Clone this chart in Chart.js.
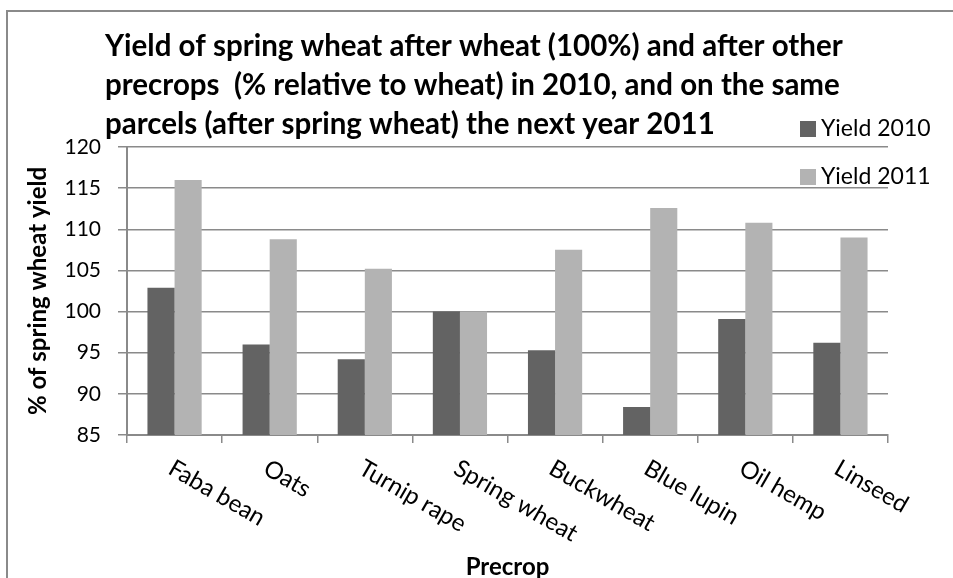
<!DOCTYPE html>
<html>
<head>
<meta charset="utf-8">
<script src="https://cdn.jsdelivr.net/npm/chart.js@4.4.0/dist/chart.umd.min.js"></script>
<style>
html,body{margin:0;padding:0;background:#ffffff;}
#wrap{position:relative;width:953px;height:578px;}
canvas{display:block;}
</style>
</head>
<body>
<div id="wrap"><canvas id="c" width="953" height="578"></canvas></div>
<script>
// ---- data ----
const categories = ['Faba bean', 'Oats', 'Turnip rape', 'Spring wheat', 'Buckwheat', 'Blue lupin', 'Oil hemp', 'Linseed'];
const yield2010 = [102.9, 96.0, 94.2, 100.0, 95.3, 88.4, 99.1, 96.2];
const yield2011 = [116.0, 108.8, 105.2, 100.0, 107.5, 112.6, 110.8, 109.0];
const seriesLabels = ['Yield 2010', 'Yield 2011'];
const titleLines = [
  'Yield of spring wheat after wheat (100%) and after other',
  'precrops  (% relative to wheat) in 2010, and on the same',
  'parcels (after spring wheat) the next year 2011'
];
const yAxisTitle = '% of spring wheat yield';
const xAxisTitle = 'Precrop';
const yMin = 85, yMax = 120, yStep = 5;

// ---- styles ----
const FONT = 'Lato, "Open Sans", sans-serif';
const colors = ['#636363', '#b3b3b3'];
const gridColor = '#8a8a8a';

const frameAndTextPlugin = {
  id: 'frameAndText',
  beforeDraw(chart) {
    const ctx = chart.ctx;
    ctx.save();
    ctx.fillStyle = '#ffffff';
    ctx.fillRect(0, 0, chart.width, chart.height);
    ctx.strokeStyle = gridColor;
    ctx.lineWidth = 2;
    ctx.strokeRect(7, 11, chart.width + 10, chart.height + 10);
    ctx.restore();
  },
  afterDraw(chart) {
    const ctx = chart.ctx;
    ctx.save();
    // title
    ctx.fillStyle = '#000000';
    ctx.font = 'bold 29.5px ' + FONT;
    ctx.textAlign = 'left';
    ctx.textBaseline = 'alphabetic';
    titleLines.forEach((t, i) => ctx.fillText(t, 105, 56 + i * 39));
    // legend
    ctx.textBaseline = 'middle';
    ctx.font = '23px ' + FONT;
    chart.data.datasets.forEach((ds, i) => {
      const cy = 129 + i * 48;
      ctx.fillStyle = ds.backgroundColor;
      ctx.fillRect(800, cy - 8, 16, 16);
      ctx.fillStyle = '#000000';
      ctx.fillText(ds.label, 821, cy);
    });
    // rotated category labels
    const xs = chart.scales.x;
    ctx.font = '24px ' + FONT;
    ctx.textBaseline = 'top';
    categories.forEach((c, i) => {
      const x = xs.getPixelForValue(i);
      ctx.save();
      ctx.translate(x + 2, 456);
      ctx.rotate(30 * Math.PI / 180);
      ctx.fillText(c, 0, 0);
      ctx.restore();
    });
    ctx.restore();
  }
};

const yTickValues = [];
for (let v = yMin; v <= yMax; v += yStep) yTickValues.push(v);

new Chart(document.getElementById('c'), {
  type: 'bar',
  data: {
    labels: categories,
    datasets: [
      { label: seriesLabels[0], data: yield2010, backgroundColor: colors[0], borderWidth: 0 },
      { label: seriesLabels[1], data: yield2011, backgroundColor: colors[1], borderWidth: 0 }
    ]
  },
  options: {
    responsive: false,
    animation: false,
    layout: { padding: { left: 0, top: 147, right: 65, bottom: 0 } },
    datasets: { bar: { categoryPercentage: 0.57, barPercentage: 1.0 } },
    plugins: {
      legend: { display: false },
      title: { display: false },
      tooltip: { enabled: false }
    },
    scales: {
      x: {
        offset: true,
        grid: { display: true, drawOnChartArea: false, drawTicks: true, tickLength: 8, color: gridColor, lineWidth: 1.5, offset: true },
        border: { display: true, color: gridColor, width: 2 },
        ticks: { display: false },
        title: { display: true, text: xAxisTitle, color: '#000', font: { family: FONT, size: 24, weight: 'bold' }, padding: { top: 0, bottom: -4 } },
        afterFit(scale) { scale.height = 143; }
      },
      y: {
        min: yMin, max: yMax,
        afterBuildTicks(scale) { scale.ticks = yTickValues.map(v => ({ value: v })); },
        grid: { color: gridColor, lineWidth: 1.5, drawTicks: true, tickLength: 9 },
        border: { display: true, color: gridColor, width: 2 },
        ticks: { color: '#000', font: { family: FONT, size: 21 }, padding: 17 },
        title: { display: true, text: yAxisTitle, color: '#000', font: { family: FONT, size: 24, weight: 'bold' }, padding: { top: 24, bottom: 0 } },
        afterFit(scale) { scale.width = 127; }
      }
    }
  },
  plugins: [frameAndTextPlugin]
});
</script>
</body>
</html>
